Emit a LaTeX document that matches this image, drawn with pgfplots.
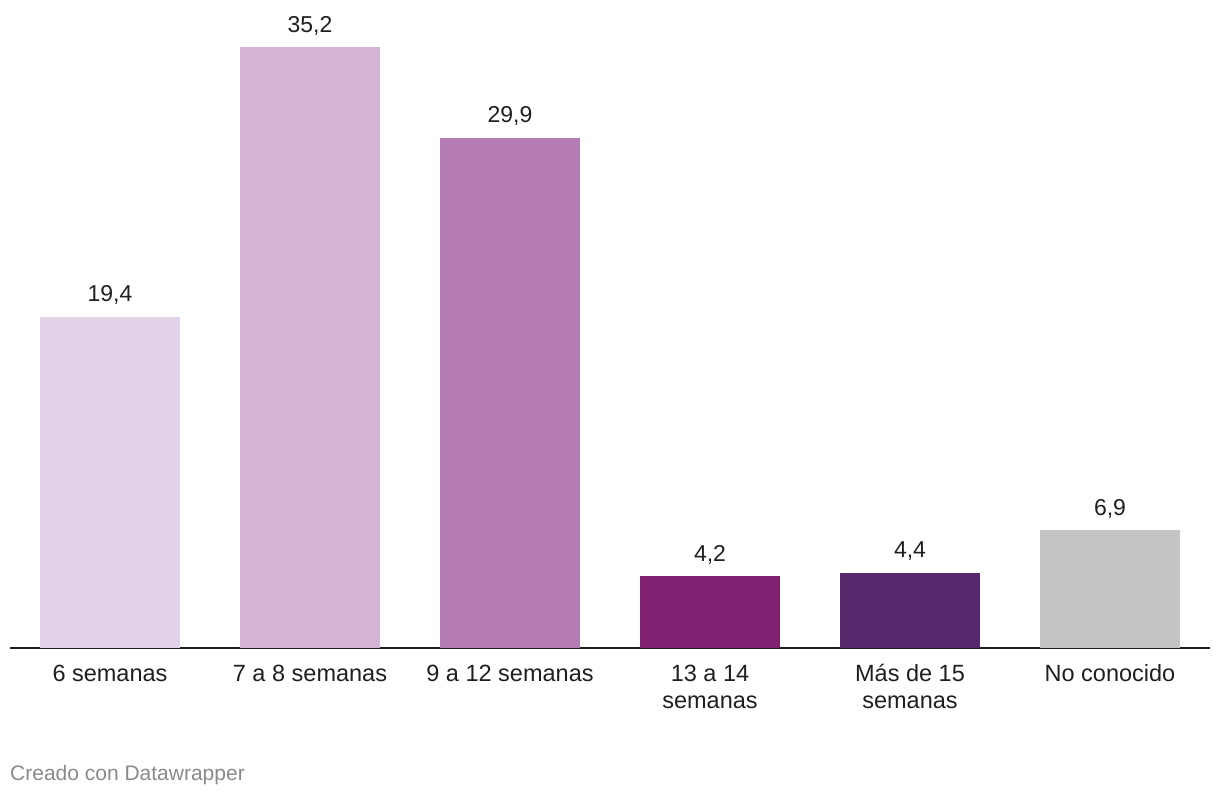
\documentclass[border=0pt]{standalone}
\usepackage{pgfplots}
\pgfplotsset{compat=1.18}
\usepackage{fontspec}
\setmainfont{Liberation Sans}
\definecolor{c1}{HTML}{E3D3E8}
\definecolor{c2}{HTML}{D3B3D6}
\definecolor{c3}{HTML}{B47BB4}
\definecolor{c4}{HTML}{7F2170}
\definecolor{c5}{HTML}{57286C}
\definecolor{c6}{HTML}{C4C4C4}
\definecolor{txt}{HTML}{1F1F1F}
\definecolor{cap}{HTML}{8A8A8A}
\begin{document}
\begin{tikzpicture}[x=1pt,y=1pt]
\useasboundingbox (0,0) rectangle (1220,796);
\begin{axis}[
  at={(10pt,148pt)}, anchor=south west,
  scale only axis, width=1200pt, height=614.5pt,
  xmin=-0.5, xmax=5.5, ymin=0, ymax=36,
  ybar, bar width=0.7, bar shift=0pt,
  axis x line=bottom, hide y axis,
  x axis line style={-, line width=2pt, color=txt},
  xtick={0,1,2,3,4,5}, major tick length=0pt,
  xticklabels={{\rule{0pt}{20pt}6 semanas},{\rule{0pt}{20pt}7 a 8 semanas},{\rule{0pt}{20pt}9 a 12 semanas},{\rule{0pt}{20pt}13 a 14\\semanas},{\rule{0pt}{20pt}Más de 15\\semanas},{\rule{0pt}{20pt}No conocido}},
  xticklabel style={align=center, inner sep=0pt, anchor=north, yshift=-13pt, text=txt, font=\fontsize{23.5}{27}\selectfont},
  clip=false,
  nodes near coords={\pgfmathprintnumber[use comma,fixed,fixed zerofill,precision=1,assume math mode=true]{\pgfplotspointmeta}},
  every node near coord/.append style={anchor=base, inner sep=0pt, yshift=15pt, text=txt, font=\fontsize{23}{26}\selectfont},
]
\addplot[fill=c1, draw=none] coordinates {(0,19.4)};
\addplot[fill=c2, draw=none] coordinates {(1,35.2)};
\addplot[fill=c3, draw=none] coordinates {(2,29.9)};
\addplot[fill=c4, draw=none] coordinates {(3,4.2)};
\addplot[fill=c5, draw=none] coordinates {(4,4.4)};
\addplot[fill=c6, draw=none] coordinates {(5,6.9)};
\end{axis}
\node[anchor=base west, inner sep=0pt, text=cap, font=\fontsize{21}{24}\selectfont] at (10,16) {Creado con Datawrapper};
\end{tikzpicture}
\end{document}
